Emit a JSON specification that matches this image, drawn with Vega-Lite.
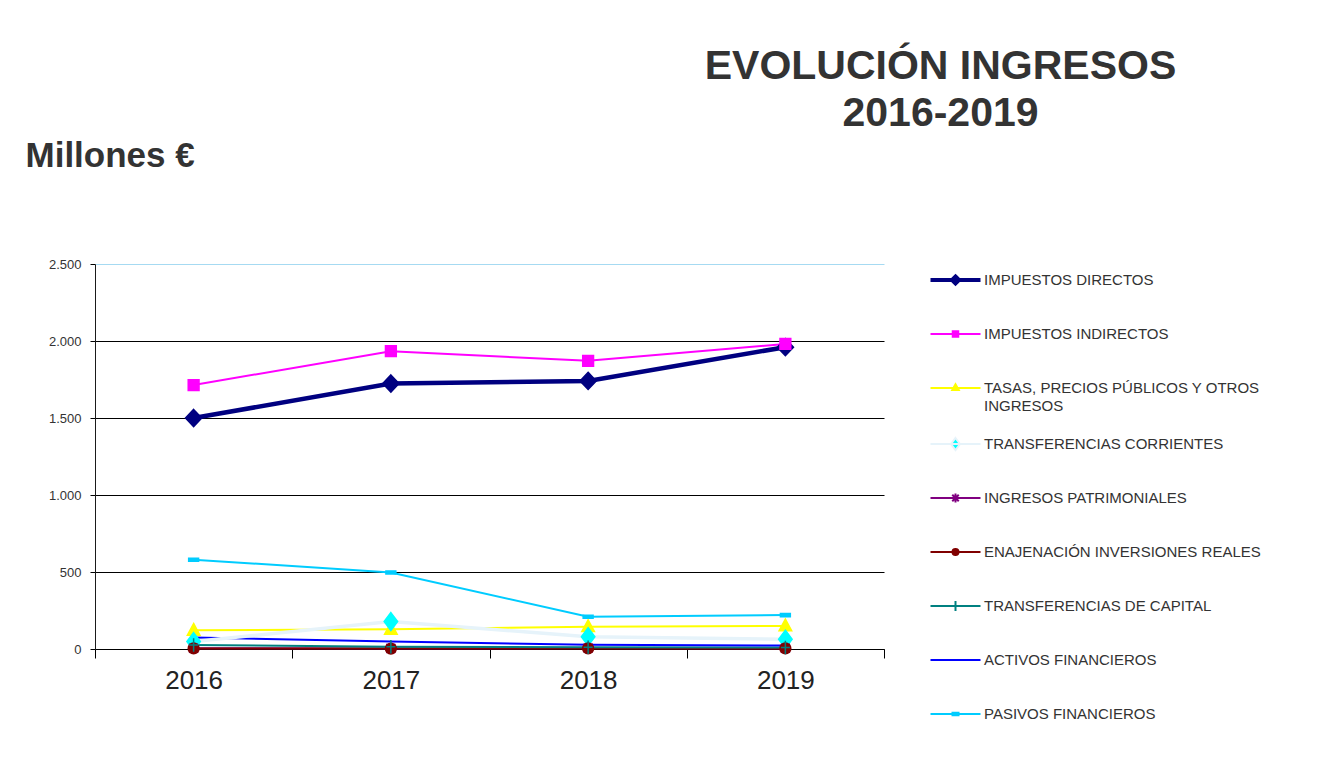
{
  "$schema": "https://vega.github.io/schema/vega-lite/v6.json",
  "autosize": "none",
  "width": 789,
  "height": 385,
  "padding": {"left": 95, "top": 264, "right": 437, "bottom": 131},
  "background": "#ffffff",
  "config": {
    "view": {"stroke": null},
    "font": "Liberation Sans"
  },
  "title": {
    "text": ["EVOLUCIÓN INGRESOS", "2016-2019"],
    "font": "Liberation Sans",
    "fontSize": 41,
    "fontWeight": "bold",
    "color": "#333333",
    "anchor": "middle",
    "frame": "group",
    "dx": 451,
    "lineHeight": 47,
    "offset": 3
  },
  "data": {
    "values": [
      {"year": "2016", "serie": "IMPUESTOS DIRECTOS", "value": 1500},
      {"year": "2017", "serie": "IMPUESTOS DIRECTOS", "value": 1724},
      {"year": "2018", "serie": "IMPUESTOS DIRECTOS", "value": 1741},
      {"year": "2019", "serie": "IMPUESTOS DIRECTOS", "value": 1960},
      {"year": "2016", "serie": "IMPUESTOS INDIRECTOS", "value": 1714},
      {"year": "2017", "serie": "IMPUESTOS INDIRECTOS", "value": 1934},
      {"year": "2018", "serie": "IMPUESTOS INDIRECTOS", "value": 1871},
      {"year": "2019", "serie": "IMPUESTOS INDIRECTOS", "value": 1981},
      {"year": "2016", "serie": "TASAS, PRECIOS PÚBLICOS Y OTROS INGRESOS", "value": 122},
      {"year": "2017", "serie": "TASAS, PRECIOS PÚBLICOS Y OTROS INGRESOS", "value": 128},
      {"year": "2018", "serie": "TASAS, PRECIOS PÚBLICOS Y OTROS INGRESOS", "value": 145},
      {"year": "2019", "serie": "TASAS, PRECIOS PÚBLICOS Y OTROS INGRESOS", "value": 150},
      {"year": "2016", "serie": "TRANSFERENCIAS CORRIENTES", "value": 48},
      {"year": "2017", "serie": "TRANSFERENCIAS CORRIENTES", "value": 178},
      {"year": "2018", "serie": "TRANSFERENCIAS CORRIENTES", "value": 80},
      {"year": "2019", "serie": "TRANSFERENCIAS CORRIENTES", "value": 63},
      {"year": "2016", "serie": "INGRESOS PATRIMONIALES", "value": 5},
      {"year": "2017", "serie": "INGRESOS PATRIMONIALES", "value": 4},
      {"year": "2018", "serie": "INGRESOS PATRIMONIALES", "value": 6},
      {"year": "2019", "serie": "INGRESOS PATRIMONIALES", "value": 5},
      {"year": "2016", "serie": "ENAJENACIÓN INVERSIONES REALES", "value": 4},
      {"year": "2017", "serie": "ENAJENACIÓN INVERSIONES REALES", "value": 3},
      {"year": "2018", "serie": "ENAJENACIÓN INVERSIONES REALES", "value": 4},
      {"year": "2019", "serie": "ENAJENACIÓN INVERSIONES REALES", "value": 4},
      {"year": "2016", "serie": "TRANSFERENCIAS DE CAPITAL", "value": 26},
      {"year": "2017", "serie": "TRANSFERENCIAS DE CAPITAL", "value": 15},
      {"year": "2018", "serie": "TRANSFERENCIAS DE CAPITAL", "value": 12},
      {"year": "2019", "serie": "TRANSFERENCIAS DE CAPITAL", "value": 10},
      {"year": "2016", "serie": "ACTIVOS FINANCIEROS", "value": 74},
      {"year": "2017", "serie": "ACTIVOS FINANCIEROS", "value": 48},
      {"year": "2018", "serie": "ACTIVOS FINANCIEROS", "value": 27},
      {"year": "2019", "serie": "ACTIVOS FINANCIEROS", "value": 22},
      {"year": "2016", "serie": "PASIVOS FINANCIEROS", "value": 580},
      {"year": "2017", "serie": "PASIVOS FINANCIEROS", "value": 497},
      {"year": "2018", "serie": "PASIVOS FINANCIEROS", "value": 210},
      {"year": "2019", "serie": "PASIVOS FINANCIEROS", "value": 220}
    ]
  },
  "encoding": {
    "x": {
      "field": "year",
      "type": "ordinal",
      "scale": {"type": "band", "paddingInner": 0, "paddingOuter": 0},
      "axis": {
        "title": null,
        "labelAngle": 0,
        "labelFont": "Liberation Sans",
        "labelFontSize": 26,
        "labelColor": "#222222",
        "labelPadding": 9,
        "tickBand": "extent",
        "tickSize": 9,
        "tickColor": "#000000",
        "domainColor": "#000000",
        "grid": false
      }
    },
    "y": {
      "field": "value",
      "type": "quantitative",
      "scale": {"domain": [0, 2500], "nice": false},
      "axis": {
        "values": [0, 500, 1000, 1500, 2000, 2500],
        "labelExpr": "replace(format(datum.value, ','), ',', '.')",
        "labelFont": "Liberation Sans",
        "labelFontSize": 13,
        "labelColor": "#333333",
        "labelPadding": 9,
        "tickSize": 5,
        "tickColor": "#000000",
        "domainColor": "#1a1a1a",
        "grid": true,
        "gridColor": {"condition": {"test": "datum.value === 2500", "value": "#A6DAF2"}, "value": "#000000"},
        "gridOpacity": 1,
        "title": "Millones €",
        "titleFont": "Liberation Sans",
        "titleFontSize": 35,
        "titleFontWeight": "bold",
        "titleColor": "#333333",
        "titleAngle": 0,
        "titleAlign": "left",
        "titleBaseline": "alphabetic",
        "titleX": -70,
        "titleY": -98
      }
    }
  },
  "layer": [
    {
      "transform": [{"filter": "datum.serie !== 'IMPUESTOS DIRECTOS' && datum.serie !== 'TRANSFERENCIAS CORRIENTES'"}],
      "mark": {"type": "line", "strokeWidth": 2},
      "encoding": {
        "color": {
          "field": "serie",
          "type": "nominal",
          "scale": {
            "domain": ["IMPUESTOS DIRECTOS", "IMPUESTOS INDIRECTOS", "TASAS, PRECIOS PÚBLICOS Y OTROS INGRESOS", "TRANSFERENCIAS CORRIENTES", "INGRESOS PATRIMONIALES", "ENAJENACIÓN INVERSIONES REALES", "TRANSFERENCIAS DE CAPITAL", "ACTIVOS FINANCIEROS", "PASIVOS FINANCIEROS"],
            "range": ["#000080", "#FF00FF", "#FFFF00", "#E6F3FA", "#800080", "#800000", "#008080", "#0000FF", "#00CCFF"]
          },
          "legend": {
            "title": null,
            "orient": "none",
            "legendX": 828,
            "legendY": -8,
            "padding": 0,
            "symbolSize": 100,
            "labelFont": "Liberation Sans",
            "labelFontSize": 15,
            "labelColor": "#333333",
            "labelOffset": 46,
            "labelLimit": 400,
            "rowPadding": 6,
            "clipHeight": 48,
            "labelExpr": "datum.value === 'TASAS, PRECIOS PÚBLICOS Y OTROS INGRESOS' ? ['TASAS, PRECIOS PÚBLICOS Y OTROS', 'INGRESOS'] : datum.label",
            "encode": {
              "labels": {
                "update": {
                  "lineHeight": {"value": 18}
                }
              },
              "symbols": {
                "update": {
                  "shape": {"signal": "({'IMPUESTOS DIRECTOS': 'M0,0H10M5,-0.7L5.7,0L5,0.7L4.3,0Z', 'IMPUESTOS INDIRECTOS': 'M0,0H10M4.45,-0.55H5.55V0.55H4.45Z', 'TASAS, PRECIOS PÚBLICOS Y OTROS INGRESOS': 'M0,0H10M5,-0.75L5.65,0.4H4.35Z', 'TRANSFERENCIAS CORRIENTES': 'M0,0H10M5,-1.2L5.9,0L5,1.2L4.1,0Z', 'INGRESOS PATRIMONIALES': 'M0,0H10M4.35,-0.65L5.65,0.65M5.65,-0.65L4.35,0.65M5,-0.9V0.9', 'ENAJENACIÓN INVERSIONES REALES': 'M0,0H10M4.4,0A0.6,0.6 0 1,0 5.6,0A0.6,0.6 0 1,0 4.4,0Z', 'TRANSFERENCIAS DE CAPITAL': 'M0,0H10M5,-1V1', 'ACTIVOS FINANCIEROS': 'M0,0H10', 'PASIVOS FINANCIEROS': 'M0,0H10M4.4,-0.25H5.6V0.25H4.4Z'})[datum.value]"},
                  "fill": {"signal": "datum.value === 'TRANSFERENCIAS CORRIENTES' ? '#00FFFF' : scale('color', datum.value)"},
                  "stroke": {"signal": "scale('color', datum.value)"},
                  "strokeWidth": {"signal": "datum.value === 'IMPUESTOS DIRECTOS' ? 4 : 2"},
                  "opacity": {"value": 1}
                }
              }
            }
          }
        }
      }
    },
    {
      "transform": [{"filter": "datum.serie === 'TRANSFERENCIAS CORRIENTES'"}],
      "mark": {"type": "line", "strokeWidth": 3.5},
      "encoding": {
        "color": {"field": "serie", "type": "nominal"}
      }
    },
    {
      "transform": [{"filter": "datum.serie === 'IMPUESTOS DIRECTOS'"}],
      "mark": {"type": "line", "strokeWidth": 4.5},
      "encoding": {
        "color": {"field": "serie", "type": "nominal"}
      }
    },
    {
      "transform": [{"filter": "datum.serie !== 'ACTIVOS FINANCIEROS'"}],
      "mark": {"type": "point", "size": 324, "strokeWidth": 1.5, "opacity": 1, "filled": true},
      "encoding": {
        "shape": {
          "field": "serie",
          "type": "nominal",
          "legend": null,
          "scale": {
            "domain": ["IMPUESTOS DIRECTOS", "IMPUESTOS INDIRECTOS", "TASAS, PRECIOS PÚBLICOS Y OTROS INGRESOS", "TRANSFERENCIAS CORRIENTES", "INGRESOS PATRIMONIALES", "ENAJENACIÓN INVERSIONES REALES", "TRANSFERENCIAS DE CAPITAL", "PASIVOS FINANCIEROS"],
            "range": [
              "M0,-0.95L0.9,0L0,0.95L-0.9,0Z",
              "M-0.6,-0.6H0.6V0.6H-0.6Z",
              "M0,-0.75L0.7,0.55H-0.7Z",
              "M0,-1L0.75,0L0,1L-0.75,0Z",
              "M-0.5,-0.5L0.5,0.5M0.5,-0.5L-0.5,0.5M0,-0.6V0.6",
              "M-0.6,0A0.6,0.6 0 1,0 0.6,0A0.6,0.6 0 1,0 -0.6,0Z",
              "M0,-0.75V0.75M-0.5,0H0.5",
              "M-0.55,-0.17H0.55V0.17H-0.55Z"
            ]
          }
        },
        "fill": {
          "field": "serie",
          "type": "nominal",
          "legend": null,
          "scale": {
            "domain": ["IMPUESTOS DIRECTOS", "IMPUESTOS INDIRECTOS", "TASAS, PRECIOS PÚBLICOS Y OTROS INGRESOS", "TRANSFERENCIAS CORRIENTES", "INGRESOS PATRIMONIALES", "ENAJENACIÓN INVERSIONES REALES", "TRANSFERENCIAS DE CAPITAL", "PASIVOS FINANCIEROS"],
            "range": ["#000080", "#FF00FF", "#FFFF00", "#00FFFF", "#800080", "#800000", "#008080", "#00CCFF"]
          }
        },
        "stroke": {
          "field": "serie",
          "type": "nominal",
          "legend": null,
          "scale": {
            "domain": ["IMPUESTOS DIRECTOS", "IMPUESTOS INDIRECTOS", "TASAS, PRECIOS PÚBLICOS Y OTROS INGRESOS", "TRANSFERENCIAS CORRIENTES", "INGRESOS PATRIMONIALES", "ENAJENACIÓN INVERSIONES REALES", "TRANSFERENCIAS DE CAPITAL", "PASIVOS FINANCIEROS"],
            "range": ["#000080", "#FF00FF", "#FFFF00", "#00FFFF", "#800080", "#800000", "#008080", "#00CCFF"]
          }
        }
      }
    }
  ]
}
